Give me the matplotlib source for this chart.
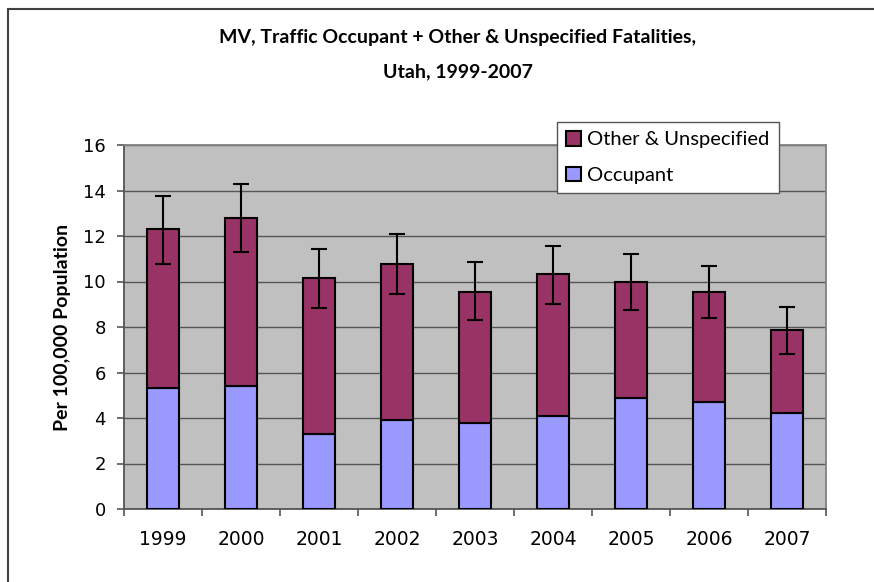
import numpy as np
import matplotlib
matplotlib.use('Agg')
import matplotlib.pyplot as plt
from matplotlib.patches import Rectangle

years = ['1999', '2000', '2001', '2002', '2003', '2004', '2005', '2006', '2007']
occupant = [5.3, 5.4, 3.3, 3.9, 3.8, 4.1, 4.9, 4.7, 4.2]
total = [12.3, 12.8, 10.15, 10.75, 9.55, 10.35, 10.0, 9.55, 7.85]
ci_low = [10.75, 11.3, 8.85, 9.45, 8.3, 9.0, 8.75, 8.4, 6.8]
ci_high = [13.75, 14.3, 11.45, 12.1, 10.85, 11.55, 11.2, 10.7, 8.9]

other = [t - o for t, o in zip(total, occupant)]
x = np.arange(len(years))
yerr = [np.array(total) - np.array(ci_low), np.array(ci_high) - np.array(total)]

fig = plt.figure(figsize=(8.74, 5.82), dpi=100)
ax = fig.add_axes([124 / 874, 1 - 509 / 582, 702 / 874, 364 / 582])

# outer chart border (cropped on right/bottom)
fig.patches.append(Rectangle((8 / 874, -0.1), 1.2, 1 - 9 / 582 + 0.1, transform=fig.transFigure,
                             fill=False, edgecolor='#404040', linewidth=1.5))

ax.set_facecolor('#c0c0c0')
b1 = ax.bar(x, occupant, width=0.41, color='#9999ff', edgecolor='black', linewidth=1.5,
            label='Occupant', zorder=3)
b2 = ax.bar(x, other, bottom=occupant, width=0.41, color='#993366', edgecolor='black',
            linewidth=1.5, label='Other & Unspecified', zorder=3)
ax.errorbar(x, total, yerr=yerr, fmt='none', ecolor='black', elinewidth=1.5,
            capsize=6, capthick=1.5, zorder=4)

ax.set_xlim(-0.5, len(years) - 0.5)
ax.set_ylim(0, 16)
ax.set_yticks(range(0, 17, 2))
ax.yaxis.grid(True, color='#555555', linewidth=1, zorder=0)
ax.set_axisbelow(True)

ax.set_xticks(x)
ax.set_xticklabels(years, fontsize=13.5, family='DejaVu Sans')
ax.set_xticks(np.arange(-0.5, len(years), 1), minor=True)
ax.tick_params(axis='x', which='major', length=0, pad=15)
ax.tick_params(axis='x', which='minor', length=5, width=1.2, color='#555555', direction='out')
ax.tick_params(axis='y', length=5, width=1.2, color='#555555', labelsize=13, pad=8)
for s in ax.spines.values():
    s.set_color('#808080')
    s.set_linewidth(1.3)
ax.spines['left'].set_color('#555555')
ax.spines['bottom'].set_color('#555555')

ax.set_ylabel('Per 100,000 Population', fontsize=14, fontweight='bold', family='Lato', labelpad=9)

fig.text(0.524, 1 - 38 / 582, 'MV, Traffic Occupant + Other & Unspecified Fatalities,',
         ha='center', va='center', fontsize=14, fontweight='bold', family='Lato')
fig.text(0.524, 1 - 72 / 582, 'Utah, 1999-2007',
         ha='center', va='center', fontsize=14, fontweight='bold', family='Lato')

leg = fig.legend([b2, b1], ['Other & Unspecified', 'Occupant'], loc='upper left',
                 bbox_to_anchor=(557 / 874, 1 - 122 / 582), prop={'family': 'Lato', 'size': 14.5},
                 fancybox=False, framealpha=1, edgecolor='#555555', handlelength=0.75,
                 handleheight=0.75, handletextpad=0.3, labelspacing=0.9, borderpad=0.45,
                 borderaxespad=0)
leg.get_frame().set_linewidth(1.0)

fig.savefig('out.png', dpi=100)
